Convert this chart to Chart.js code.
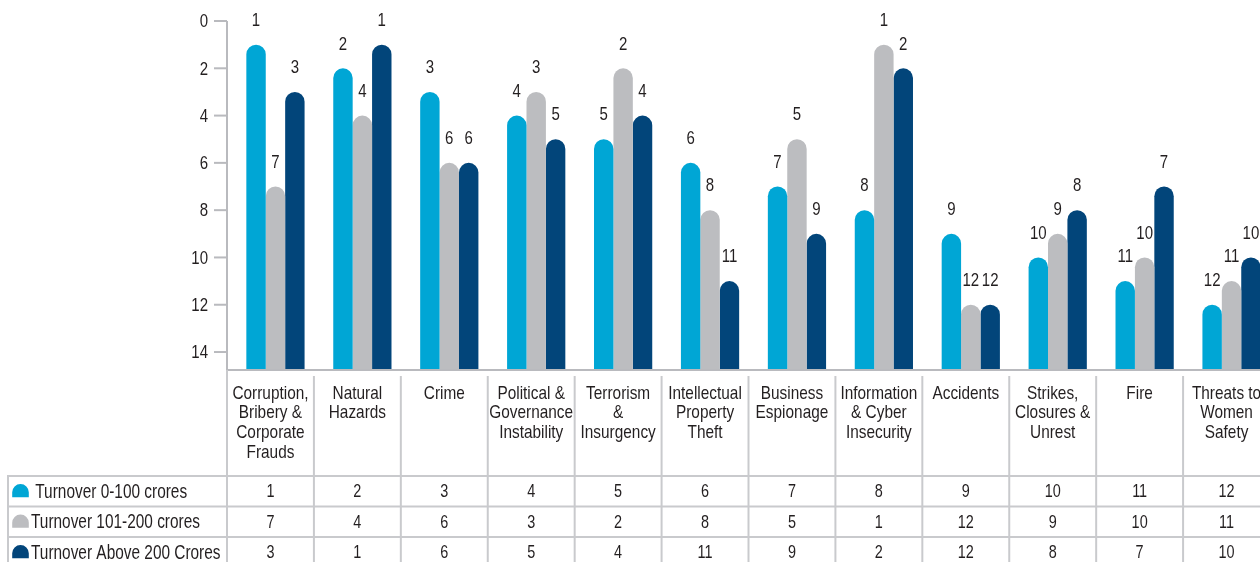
<!DOCTYPE html>
<html lang="en">
<head>
    <meta charset="UTF-8">
    <title>Risk ranking by turnover</title>
    <script src="https://cdn.jsdelivr.net/npm/chart.js@4.4.1/dist/chart.umd.min.js"></script>
    <style>
        body { margin: 0; background: #fff; overflow: hidden; }
        #wrap { width: 1275px; height: 562px; }
    </style>
</head>
<body>
    <div id="wrap"><canvas id="myChart" width="1275" height="562"></canvas></div>

    <script>
        // data
        const categories = [
            ['Corruption,', 'Bribery &', 'Corporate', 'Frauds'],
            ['Natural', 'Hazards'],
            ['Crime'],
            ['Political &', 'Governance', 'Instability'],
            ['Terrorism', '&', 'Insurgency'],
            ['Intellectual', 'Property', 'Theft'],
            ['Business', 'Espionage'],
            ['Information', '& Cyber', 'Insecurity'],
            ['Accidents'],
            ['Strikes,', 'Closures &', 'Unrest'],
            ['Fire'],
            ['Threats to', 'Women', 'Safety']
        ];
        const seriesNames = [' Turnover 0-100 crores', 'Turnover 101-200 crores', 'Turnover Above 200 Crores'];
        const turnover0to100 = [1, 2, 3, 4, 5, 6, 7, 8, 9, 10, 11, 12];
        const turnover101to200 = [7, 4, 6, 3, 2, 8, 5, 1, 12, 9, 10, 11];
        const turnoverAbove200 = [3, 1, 6, 5, 4, 11, 9, 2, 12, 8, 7, 10];
        const yTickValues = [0, 2, 4, 6, 8, 10, 12, 14];

        const FONT = '"Liberation Sans", Arial, sans-serif';
        const barColors = ['#00a6d5', '#bcbdc0', '#02457a'];
        const lineGrey = '#b9babe';
        const tableGrey = '#c9cacd';
        const textColor = '#231f20';
        const yMax = 14.76;
        const AXIS_X = 227;   // y axis line sits a bit left of the first category
        const SQUEEZE = 0.79; // condensed look

        // condensed text: squeeze a normal face horizontally
        function narrowText(ctx, txt, x, y, align, sx) {
            ctx.save();
            ctx.translate(x, y);
            ctx.scale(sx, 1);
            ctx.textAlign = align;
            ctx.fillText(txt, 0, 0);
            ctx.restore();
        }

        // y axis, bottom axis and value labels
        const axisAndLabels = {
            id: 'axisAndLabels',
            afterDatasetsDraw(chart) {
                const ctx = chart.ctx;
                const ys = chart.scales.y;
                const area = chart.chartArea;
                ctx.save();
                ctx.strokeStyle = lineGrey;
                ctx.lineWidth = 2;
                ctx.beginPath();
                ctx.moveTo(AXIS_X, area.top);
                ctx.lineTo(AXIS_X, area.bottom);
                ctx.moveTo(AXIS_X - 1, area.bottom);
                ctx.lineTo(chart.width, area.bottom);
                ctx.stroke();
                ctx.fillStyle = textColor;
                ctx.font = '19px ' + FONT;
                ctx.textBaseline = 'middle';
                yTickValues.forEach(v => {
                    const y = ys.getPixelForValue(v);
                    ctx.beginPath();
                    ctx.moveTo(AXIS_X - 13, y);
                    ctx.lineTo(AXIS_X, y);
                    ctx.stroke();
                    narrowText(ctx, String(v), 208, y + 1, 'right', SQUEEZE);
                });
                chart.data.datasets.forEach((ds, i) => {
                    chart.getDatasetMeta(i).data.forEach((bar, j) => {
                        narrowText(ctx, String(ds.data[j]), bar.x, bar.y - 24, 'center', SQUEEZE);
                    });
                });
                ctx.restore();
            }
        };

        // data table under the chart
        const dataTable = {
            id: 'dataTable',
            afterDraw(chart) {
                const ctx = chart.ctx;
                const xs = chart.scales.x;
                const left = AXIS_X;
                const colW = xs.width / categories.length;
                const axisY = chart.chartArea.bottom;
                const rowTop = 476, rowH = 30.5, tableLeft = 8, bottom = 562;
                ctx.save();
                ctx.strokeStyle = tableGrey;
                ctx.lineWidth = 2;
                for (let k = 0; k <= categories.length; k++) {
                    const x = left + colW * k;
                    ctx.beginPath();
                    ctx.moveTo(x, k === 0 ? axisY : axisY + 6);
                    ctx.lineTo(x, bottom);
                    ctx.stroke();
                }
                ctx.beginPath();
                ctx.moveTo(tableLeft, rowTop);
                ctx.lineTo(tableLeft, bottom);
                ctx.stroke();
                for (let r = 0; r < 3; r++) {
                    const y = rowTop + rowH * r;
                    ctx.beginPath();
                    ctx.moveTo(tableLeft - 1, y);
                    ctx.lineTo(chart.width, y);
                    ctx.stroke();
                }
                ctx.fillStyle = textColor;
                ctx.textBaseline = 'middle';
                ctx.font = '19px ' + FONT;
                categories.forEach((lines, k) => {
                    const cx = left + colW * (k + 0.5);
                    lines.forEach((ln, li) => narrowText(ctx, ln, cx, 393.5 + li * 19.6, 'center', 0.81));
                });
                chart.data.datasets.forEach((ds, r) => {
                    const cy = rowTop + rowH * (r + 0.5);
                    ctx.font = '19px ' + FONT;
                    ds.data.forEach((v, k) => narrowText(ctx, String(v), left + colW * (k + 0.5), cy + 1, 'center', 0.76));
                    // marker shaped like a bar top
                    ctx.fillStyle = ds.backgroundColor;
                    ctx.beginPath();
                    ctx.arc(20.5, cy + 1, 8.3, Math.PI, 0);
                    ctx.lineTo(28.8, cy + 6);
                    ctx.lineTo(12.2, cy + 6);
                    ctx.closePath();
                    ctx.fill();
                    ctx.fillStyle = textColor;
                    ctx.font = '19.5px ' + FONT;
                    narrowText(ctx, seriesNames[r], 31, cy + 1, 'left', SQUEEZE);
                });
                ctx.restore();
            }
        };

        const ctx = document.getElementById('myChart').getContext('2d');
        const common = { base: yMax, borderRadius: 10, borderSkipped: 'start', barPercentage: 1, categoryPercentage: 0.67 };
        const myChart = new Chart(ctx, {
            type: 'bar',
            data: {
                labels: categories.map(c => c.join(' ')),
                datasets: [
                    { label: seriesNames[0], data: turnover0to100, backgroundColor: barColors[0], ...common },
                    { label: seriesNames[1], data: turnover101to200, backgroundColor: barColors[1], ...common },
                    { label: seriesNames[2], data: turnoverAbove200, backgroundColor: barColors[2], ...common }
                ]
            },
            options: {
                responsive: false,
                animation: false,
                devicePixelRatio: 1,
                layout: { padding: { top: 21, right: 0, left: 0, bottom: 0 } },
                plugins: { legend: { display: false }, tooltip: { enabled: false } },
                scales: {
                    x: {
                        grid: { display: false },
                        ticks: { display: false },
                        border: { display: false },
                        afterFit(s) { s.height = 192; }
                    },
                    y: {
                        reverse: true,
                        min: 0,
                        max: yMax,
                        afterBuildTicks(s) { s.ticks = yTickValues.map(v => ({ value: v })); },
                        afterFit(s) { s.width = 232; },
                        grid: { display: false },
                        border: { display: false },
                        ticks: { display: false }
                    }
                }
            },
            plugins: [axisAndLabels, dataTable]
        });
    </script>
</body>
</html>
